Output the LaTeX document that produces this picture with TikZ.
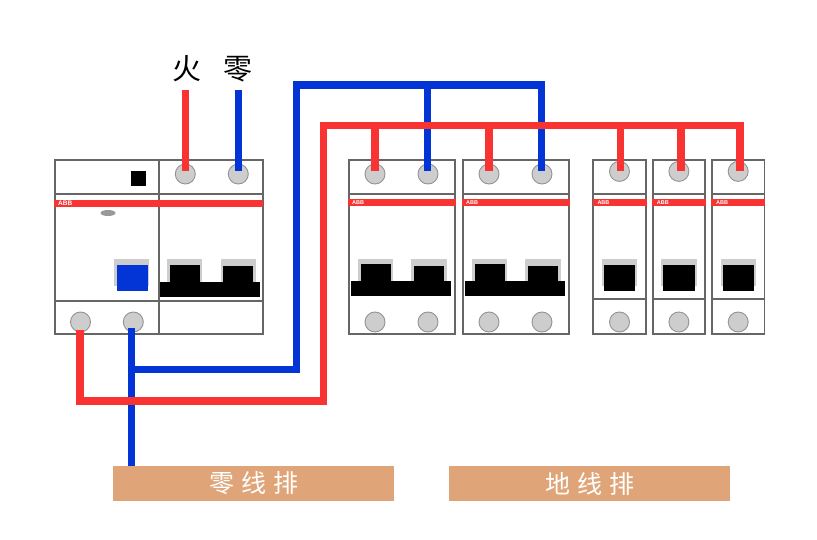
\documentclass[tikz,border=0pt]{standalone}
\usepackage{fontspec}
\setsansfont{Liberation Sans}
\newfontfamily\cjk{Noto Sans CJK SC}
\definecolor{wirered}{HTML}{F93232}
\definecolor{wireblue}{HTML}{0335D6}
\definecolor{casegray}{HTML}{666666}
\definecolor{handlegray}{HTML}{CDCDCD}
\definecolor{barbrown}{HTML}{DFA579}
\tikzset{
  case/.style={draw=casegray,line width=1.7pt,fill=white,anchor=north west,inner sep=0pt,outer sep=0pt},
  terminal/.style={circle,draw=gray!85,line width=0.9pt,fill=handlegray,minimum size=20pt,inner sep=0pt},
  redwire/.style={draw=wirered,line width=7.4pt},
  bluewire/.style={draw=wireblue,line width=7.4pt},
  busbar/.style={fill=barbrown,minimum width=280.5pt,minimum height=35pt,inner sep=0pt,text=white,font=\cjk\fontsize{25}{25}\selectfont},
  phase/.style={font=\cjk\fontsize{29}{29}\selectfont,inner sep=0pt},
  abb/.style={text=white,font=\sffamily\bfseries\fontsize{5.5}{5.5}\selectfont,inner sep=0pt,anchor=west}
}
\begin{document}
\begin{tikzpicture}[x=1pt,y=-1pt]
  \useasboundingbox (0,0) rectangle (817,540);

  % main switch
  \node[case,minimum width=208pt,minimum height=174pt] (rcd) at (54.7,159.8) {};
  \draw[casegray,line width=1.7pt] (158.7,159.8) -- (158.7,333.8);
  \draw[casegray,line width=1.7pt] (54.7,194) -- (262.7,194);
  \draw[casegray,line width=1.7pt] (54.7,300.8) -- (262.7,300.8);
  \fill[wirered] (54,200) rectangle (263.2,207.5);
  \node[abb,font=\sffamily\bfseries\fontsize{6.5}{6.5}\selectfont] (rcdlogo) at (58,203.7) {ABB};
  \fill (131.3,171.3) rectangle (146.3,186.3);
  \fill[gray!80] (108,213) ellipse (7.5 and 3);
  \fill[handlegray] (114,259) rectangle (149.3,285.7);
  \fill[wireblue] (116.7,265.5) rectangle (148,291);
  \fill[handlegray] (167,259.5) rectangle (202.3,282);
  \fill[handlegray] (220.7,259.5) rectangle (256,282);
  \fill (170,265) rectangle (200,285);
  \fill (223,266) rectangle (253,285);
  \fill (160,282) rectangle (260,297.3);
  \node[terminal] (f1) at (185.3,174) {};
  \node[terminal] (f2) at (238.3,174) {};
  \node[terminal] (q1) at (80.5,322) {};
  \node[terminal] (q2) at (133.3,322) {};

  % two pole breakers
  \foreach \x/\nm in {349/a,463/b}{
    \node[case,minimum width=106pt,minimum height=174pt] (\nm) at (\x,159.8) {};
    \draw[casegray,line width=1.7pt] (\x,194) -- (\x+106,194);
    \fill[wirered] (\x-0.7,199.5) rectangle (\x+106.7,205.7);
    \node[abb] (\nm logo) at (\x+3,202.8) {ABB};
    \fill[handlegray] (\x+8.5,259) rectangle (\x+44,281);
    \fill[handlegray] (\x+62,259) rectangle (\x+98,281);
    \fill (\x+12,264) rectangle (\x+42,285);
    \fill (\x+64.7,266) rectangle (\x+94.7,285);
    \fill (\x+2,281) rectangle (\x+102,296.5);
    \node[terminal] (\nm1) at (\x+26,174) {};
    \node[terminal] (\nm2) at (\x+79,174) {};
    \node[terminal] (\nm3) at (\x+26,322) {};
    \node[terminal] (\nm4) at (\x+79,322) {};
  }

  % one pole breakers
  \foreach \x/\nm in {593.3/c,652.7/d,712/e}{
    \node[case,minimum width=52.5pt,minimum height=174pt] (\nm) at (\x,159.8) {};
    \draw[casegray,line width=1.7pt] (\x,194) -- (\x+52.5,194);
    \draw[casegray,line width=1.7pt] (\x,299) -- (\x+52.5,299);
    \fill[wirered] (\x-0.7,199.5) rectangle (\x+53.2,205.7);
    \node[abb] (\nm logo) at (\x+4,202.8) {ABB};
    \fill[handlegray] (\x+8.7,259) rectangle (\x+44,286);
    \fill (\x+10.5,265) rectangle (\x+42,291);
    \node[terminal] (\nm1) at (\x+26.2,171.4) {};
    \node[terminal] (\nm2) at (\x+26.2,322) {};
  }

  % bars and labels
  \node[busbar] (zerobar) at (253.3,483.5) {\hspace*{2pt}零\hspace{7pt}线\hspace{7pt}排};
  \node[busbar] (earthbar) at (589.3,483.5) {\hspace*{1pt}地\hspace{7pt}线\hspace{7pt}排};
  \node[phase] (firelabel) at (186.7,69) {火};
  \node[phase] (zerolabel) at (238,69) {零};

  % corners of the long wires
  \coordinate (bluea) at (131.7,369.5);
  \coordinate (blueb) at (296.5,369.5);
  \coordinate (bluec) at (296.5,85);
  \coordinate (blued) at (541.5,85);
  \coordinate (bluee) at (427.5,85);
  \coordinate (reda) at (80,401);
  \coordinate (redb) at (323.5,401);
  \coordinate (redc) at (323.5,125.7);
  \coordinate (redd) at (740,125.7);

  % blue wires
  \draw[bluewire] ([yshift=-8pt]zerolabel.south -| f2) -- ([yshift=3pt]f2.center);
  \draw[bluewire] ([yshift=-6pt]q2.center -| bluea) -- (zerobar.north -| bluea);
  \draw[bluewire] (bluea) -- (blueb) -- (bluec) -- (blued) -- ([yshift=3pt]b2.center -| blued);
  \draw[bluewire] (bluee) -- ([yshift=3pt]a2.center -| bluee);

  % red wires
  \draw[redwire] ([yshift=-8pt]firelabel.south -| f1) -- ([yshift=3pt]f1.center);
  \draw[redwire] ([yshift=-8pt]q1.center -| reda) -- (reda) -- (redb) -- (redc) -- (redd) -- (e1.center -| redd);
  \foreach \nm in {a1,b1}{
    \draw[redwire] (\nm.center |- redc) -- ([yshift=3pt]\nm.center);
  }
  \draw[redwire] ([xshift=1pt]c1.center |- redc) -- ([xshift=1pt]c1.center);
  \draw[redwire] ([xshift=2pt]d1.center |- redc) -- ([xshift=2pt]d1.center);
\end{tikzpicture}
\end{document}
